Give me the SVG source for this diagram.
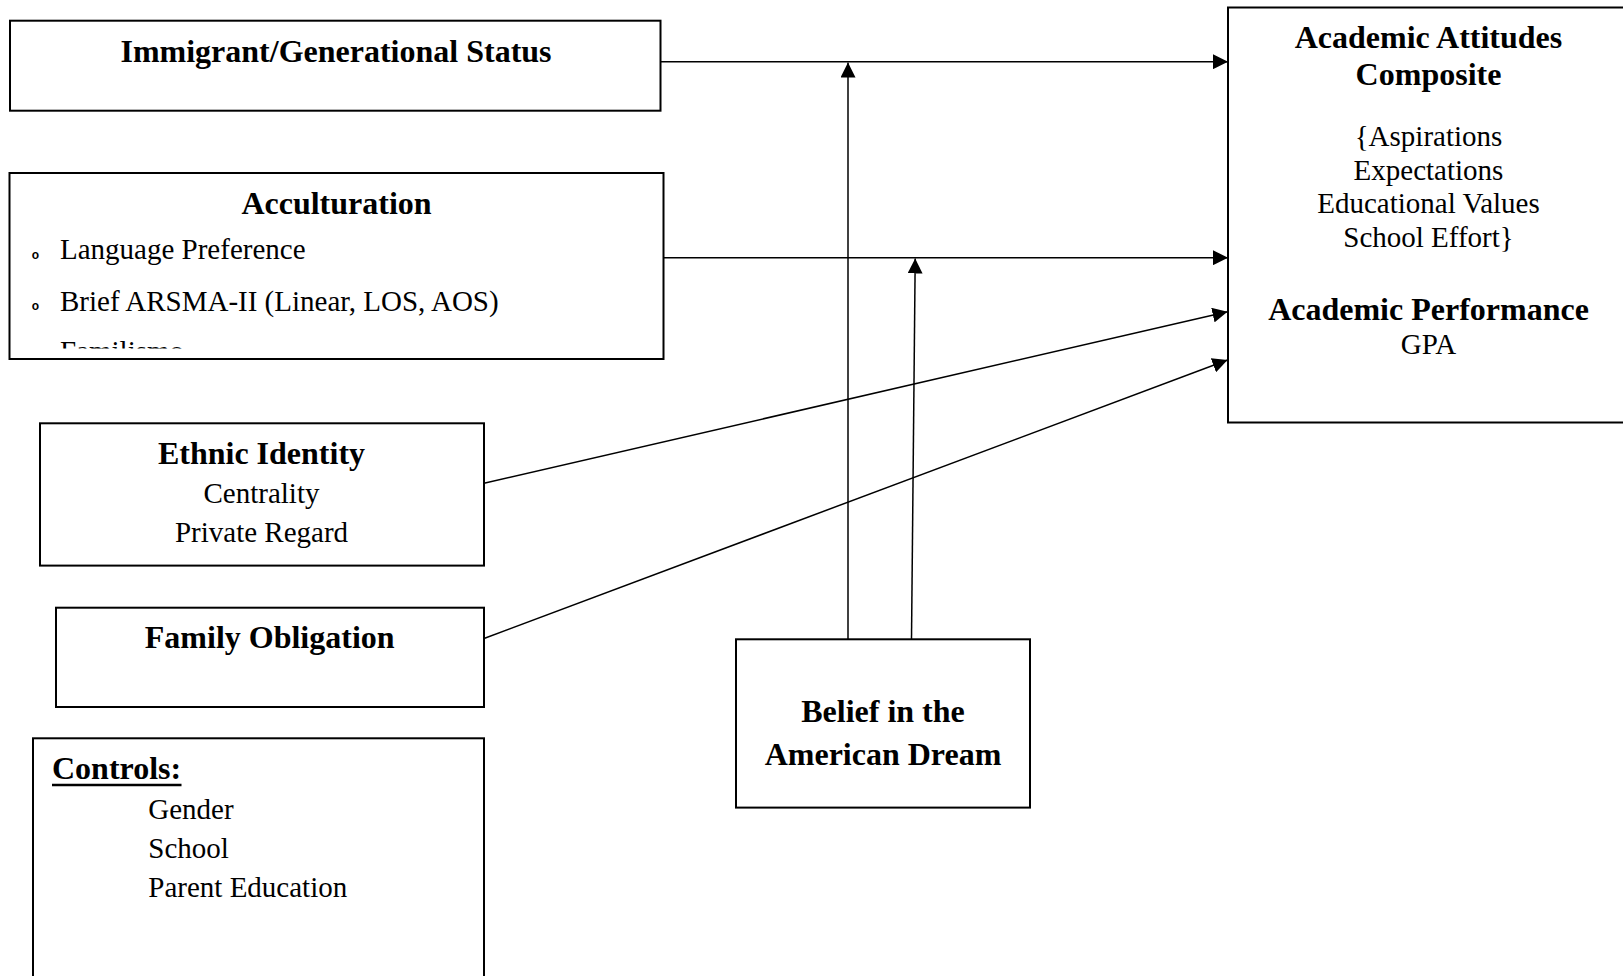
<svg xmlns="http://www.w3.org/2000/svg" width="1623" height="976" viewBox="0 0 1623 976">
<style>
  .box { fill: #fff; stroke: #000; stroke-width: 2; }
  .conn { fill: none; stroke: #000; stroke-width: 1.5; }
  .b { font-family: "Liberation Serif", "Times New Roman", serif; font-weight: bold; font-size: 32px; fill: #000; }
  .r { font-family: "Liberation Serif", "Times New Roman", serif; font-size: 29px; fill: #000; }
  .bul { font-family: "Liberation Sans", Arial, sans-serif; font-weight: bold; font-size: 12px; fill: #000; }
  .c { text-anchor: middle; }
</style>
<defs>
  <marker id="arrow" markerUnits="userSpaceOnUse" markerWidth="15" markerHeight="15" refX="15" refY="7.5" orient="auto" viewBox="0 0 15 15">
    <path d="M0,0 L15,7.5 L0,15 z" fill="#000"/>
  </marker>
  <clipPath id="accClip">
    <rect x="0" y="170" width="670" height="178.5"/>
  </clipPath>
</defs>
<rect width="1623" height="976" fill="#fff"/>

<g id="academic">
  <rect class="box" x="1228" y="7.5" width="410" height="415"/>
  <text class="b c" x="1428.5" y="48.3">Academic Attitudes</text>
  <text class="b c" x="1428.5" y="85">Composite</text>
  <text class="r c" x="1428.5" y="145.7">{Aspirations</text>
  <text class="r c" x="1428.5" y="180">Expectations</text>
  <text class="r c" x="1428.5" y="213.3">Educational Values</text>
  <text class="r c" x="1428.5" y="246.7">School Effort}</text>
  <text class="b c" x="1428.5" y="320">Academic Performance</text>
  <text class="r c" x="1428.5" y="353.5">GPA</text>
</g>

<g id="immigrant">
  <rect class="box" x="10" y="20.7" width="650.5" height="90"/>
  <text class="b c" x="336" y="61.5">Immigrant/Generational Status</text>
</g>

<g id="acculturation">
  <rect class="box" x="9.5" y="173" width="654" height="186"/>
  <text class="b c" x="336.5" y="213.5">Acculturation</text>
  <g clip-path="url(#accClip)">
    <text class="bul c" x="35.5" y="258.5">o</text>
    <text class="r" x="60" y="259">Language Preference</text>
    <text class="bul c" x="35.5" y="310">o</text>
    <text class="r" x="60" y="310.5">Brief ARSMA-II (Linear, LOS, AOS)</text>
    <text class="bul c" x="35.5" y="361">o</text>
    <text class="r" x="60" y="361">Familismo</text>
  </g>
</g>

<g id="ethnic">
  <rect class="box" x="40" y="423.3" width="444" height="142.3"/>
  <text class="b c" x="261.5" y="464">Ethnic Identity</text>
  <text class="r c" x="261.5" y="502.7">Centrality</text>
  <text class="r c" x="261.5" y="541.7">Private Regard</text>
</g>

<g id="family">
  <rect class="box" x="56" y="607.7" width="428" height="99.3"/>
  <text class="b c" x="269.7" y="648.3">Family Obligation</text>
</g>

<g id="controls">
  <rect class="box" x="33" y="738.3" width="451" height="260"/>
  <text class="b" x="52" y="779">Controls:</text>
  <line x1="52" y1="785" x2="181.5" y2="785" stroke="#000" stroke-width="2.5"/>
  <text class="r" x="148.3" y="818.8">Gender</text>
  <text class="r" x="148.3" y="857.5">School</text>
  <text class="r" x="148.3" y="896.5">Parent Education</text>
</g>

<g id="belief">
  <rect class="box" x="736" y="639.3" width="294" height="168.3"/>
  <text class="b c" x="883" y="721.7">Belief in the</text>
  <text class="b c" x="883" y="765">American Dream</text>
</g>

<g id="connectors">
  <line class="conn" x1="660.5" y1="61.7" x2="1228" y2="61.7" marker-end="url(#arrow)"/>
  <line class="conn" x1="663.5" y1="257.7" x2="1228" y2="257.7" marker-end="url(#arrow)"/>
  <line class="conn" x1="484" y1="483.3" x2="1227.5" y2="311.7" marker-end="url(#arrow)"/>
  <line class="conn" x1="484" y1="638.5" x2="1227.5" y2="360" marker-end="url(#arrow)"/>
  <line class="conn" x1="848" y1="639.3" x2="848" y2="62.5" marker-end="url(#arrow)"/>
  <line class="conn" x1="911.5" y1="639.3" x2="915.2" y2="258.5" marker-end="url(#arrow)"/>
</g>
</svg>
